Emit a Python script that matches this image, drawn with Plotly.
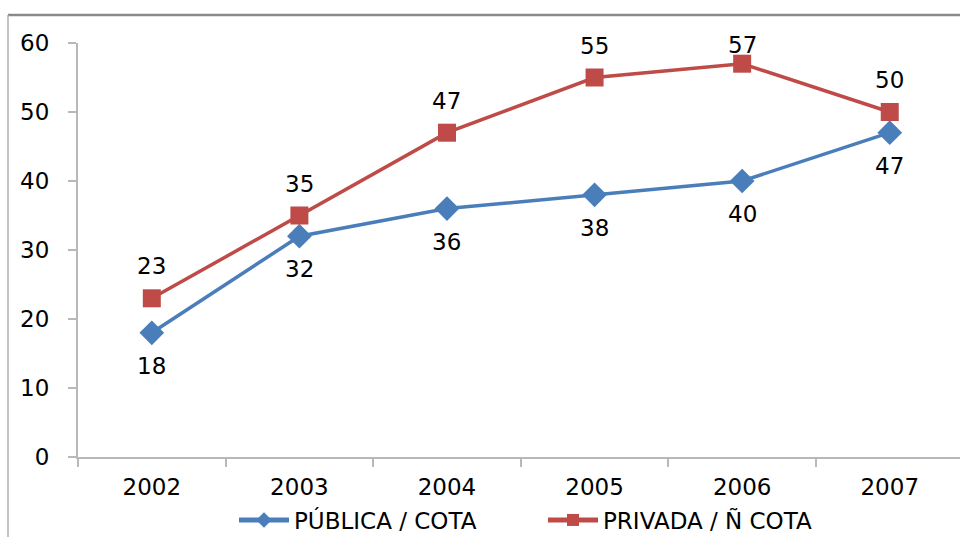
import plotly.graph_objects as go

years = ["2002", "2003", "2004", "2005", "2006", "2007"]
publica = [18, 32, 36, 38, 40, 47]
privada = [23, 35, 47, 55, 57, 50]
y_ticks = [0, 10, 20, 30, 40, 50, 60]
series_names = ["PÚBLICA / COTA", "PRIVADA / Ñ COTA"]

BLUE = "#4A7EBB"
RED = "#BE4B48"
FONT = "DejaVu Sans, Liberation Sans, Arial, sans-serif"
FS = 23

W, H = 960, 537
L, R, T, B = 78, 0, 43, 80
pw = W - L - R
ph = H - T - B
Y_MAX = 60
px_per_unit = ph / Y_MAX

fig = go.Figure()
fig.add_trace(go.Scatter(
    x=years, y=publica, name=series_names[0], mode="lines+markers",
    line=dict(color=BLUE, width=3.5),
    marker=dict(symbol="diamond", size=19, color=BLUE),
))
fig.add_trace(go.Scatter(
    x=years, y=privada, name=series_names[1], mode="lines+markers",
    line=dict(color=RED, width=3.5),
    marker=dict(symbol="square", size=18, color=RED),
))

annotations = []
for i, yv in enumerate(publica):
    annotations.append(dict(x=i, y=yv, xref="x", yref="y", text=str(yv), showarrow=False,
                            yshift=-33, font=dict(size=FS, color="#000", family=FONT)))
for i, yv in enumerate(privada):
    # keep labels inside the chart area (label centre at least ~2px below the top)
    shift = min(32, (Y_MAX - yv) * px_per_unit - 2)
    annotations.append(dict(x=i, y=yv, xref="x", yref="y", text=str(yv), showarrow=False,
                            yshift=shift, font=dict(size=FS, color="#000", family=FONT)))

def px_x(p):
    return (p - L) / pw

def px_y(p):
    return (H - B - p) / ph

shapes = [
    dict(type="line", xref="paper", yref="paper",
         x0=px_x(8), x1=px_x(962), y0=px_y(15), y1=px_y(15),
         line=dict(color="#8a8a8a", width=2.5)),
    dict(type="line", xref="paper", yref="paper",
         x0=px_x(8), x1=px_x(8), y0=px_y(15), y1=px_y(540),
         line=dict(color="#b0b0b0", width=1.5)),
]

fig.update_layout(
    width=W, height=H,
    margin=dict(l=L, r=R, t=T, b=B, pad=0, autoexpand=False),
    paper_bgcolor="white", plot_bgcolor="white",
    font=dict(family=FONT, size=FS, color="#000"),
    showlegend=True,
    legend=dict(orientation="h", x=px_x(234), xanchor="left",
                y=px_y(520), yanchor="middle",
                font=dict(size=FS, family=FONT),
                entrywidth=244, itemwidth=50, itemsizing="constant",
                bgcolor="rgba(0,0,0,0)", tracegroupgap=0),
    annotations=annotations,
    shapes=shapes,
    xaxis=dict(type="category", range=[-0.5, 5.476],
               showgrid=False, zeroline=False,
               showline=True, linecolor="#b8b8b8", linewidth=2,
               ticks="outside", tickson="boundaries", ticklen=8,
               tickcolor="#b8b8b8", tickwidth=2,
               ticklabelstandoff=8,
               tickfont=dict(size=FS, family=FONT, color="#000")),
    yaxis=dict(range=[0, Y_MAX], tickvals=y_ticks,
               showgrid=False, zeroline=False,
               showline=True, linecolor="#b8b8b8", linewidth=2,
               ticks="outside", ticklen=8, tickcolor="#b8b8b8", tickwidth=2,
               ticklabelstandoff=14,
               tickfont=dict(size=FS, family=FONT, color="#000")),
)

fig.write_html(
    "out.html",
    config={"displayModeBar": False},
    post_script="document.body.style.margin='0px';document.body.style.overflow='hidden';",
)
